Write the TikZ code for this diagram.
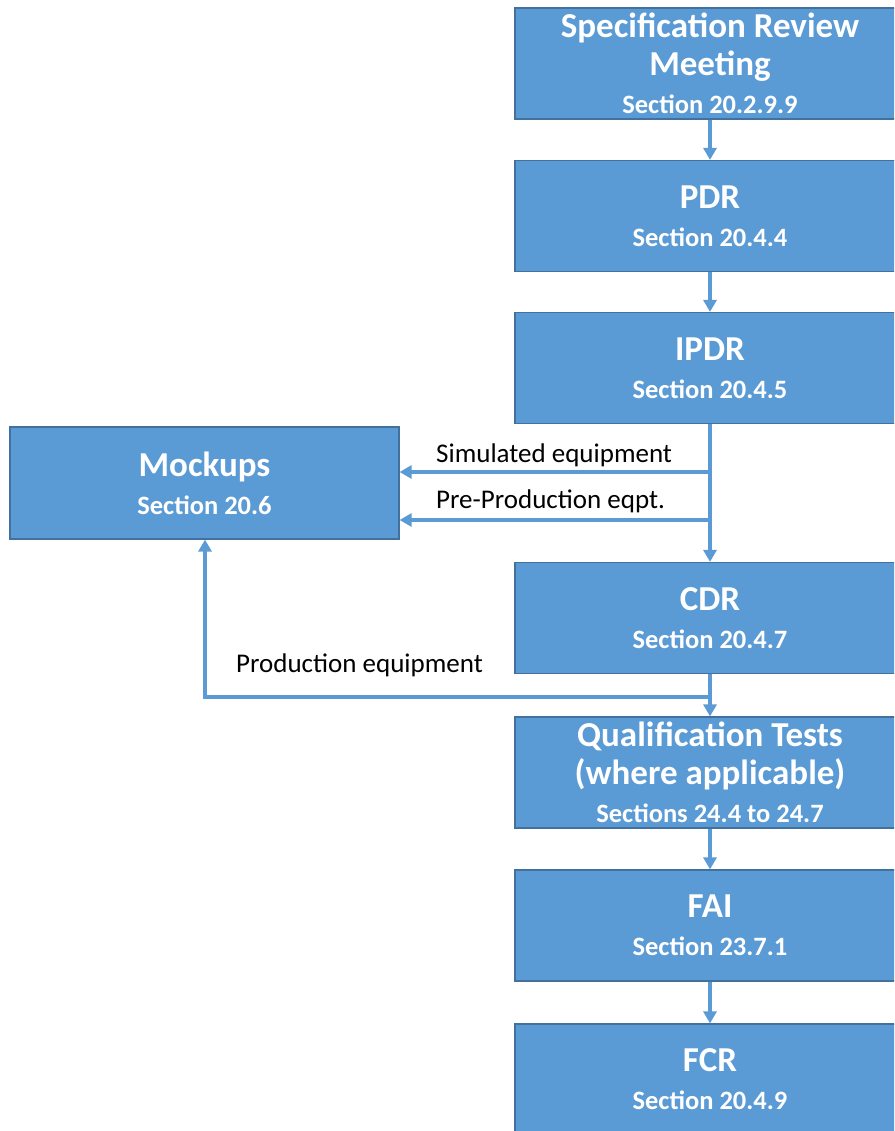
\documentclass[tikz,border=0pt]{standalone}
\usepackage{fontspec}
\setmainfont{Carlito}
\usetikzlibrary{arrows.meta,calc}
\definecolor{boxfill}{HTML}{5B9BD5}
\definecolor{boxline}{HTML}{41719C}
\definecolor{arrowc}{HTML}{5B9BD5}
\newcommand\boxtitle{\fontsize{35}{38}\selectfont\bfseries}
\newcommand\boxsec{\fontsize{26.5}{38}\selectfont\bfseries}
\tikzset{
  stagebox/.style={rectangle, draw=boxline, line width=1.2pt, fill=boxfill,
    text=white, minimum width=390pt, minimum height=111pt, align=center,
    inner sep=0pt, font=\boxtitle},
  flow/.style={draw=arrowc, line width=3.5pt, -{Triangle[width=13pt,length=12pt]}},
  lbl/.style={font=\fontsize{27}{30}\selectfont, text=black, anchor=base west, inner sep=0pt}
}
\begin{document}
\begin{tikzpicture}[x=1pt,y=-1pt]
\useasboundingbox (0,0) rectangle (894,1131);
\begin{scope}
\clip (0,0) rectangle (894,1131);
\node[stagebox] (srm) at (710,63.5) {Specification Review\\Meeting\\{\boxsec Section 20.2.9.9}};
\node[stagebox] (pdr) at (710,216) {PDR\\{\boxsec Section 20.4.4}};
\node[stagebox] (ipdr) at (710,368) {IPDR\\{\boxsec Section 20.4.5}};
\node[stagebox, minimum width=389pt, minimum height=112pt] (mock) at (204.5,483) {Mockups\\{\boxsec Section 20.6}};
\node[stagebox] (cdr) at (710,618) {CDR\\{\boxsec Section 20.4.7}};
\node[stagebox] (qual) at (710,772.5) {Qualification Tests\\(where applicable)\\{\boxsec Sections 24.4 to 24.7}};
\node[stagebox] (fai) at (710,925.5) {FAI\\{\boxsec Section 23.7.1}};
\node[stagebox] (fcr) at (710,1079.5) {FCR\\{\boxsec Section 20.4.9}};

\coordinate (simb) at (710,472);
\coordinate (preb) at (710,520);
\coordinate (prodb) at (710,697);
\coordinate (prodc) at (205,697);

\draw[flow] (srm) -- (pdr);
\draw[flow] (pdr) -- (ipdr);
\draw[flow] (ipdr) -- (cdr);
\draw[flow] (cdr) -- (qual);
\draw[flow] (qual) -- (fai);
\draw[flow] (fai) -- (fcr);
\draw[flow] (simb) -- (simb -| mock.east);
\draw[flow] (preb) -- (preb -| mock.east);
\draw[flow] (prodb) -- (prodc) -- (prodc |- mock.south);

\node[lbl] (lsim) at (436,462) {Simulated equipment};
\node[lbl] (lpre) at (436,508) {Pre-Production eqpt.};
\node[lbl] (lprod) at (236,672) {Production equipment};
\end{scope}
\end{tikzpicture}
\end{document}
